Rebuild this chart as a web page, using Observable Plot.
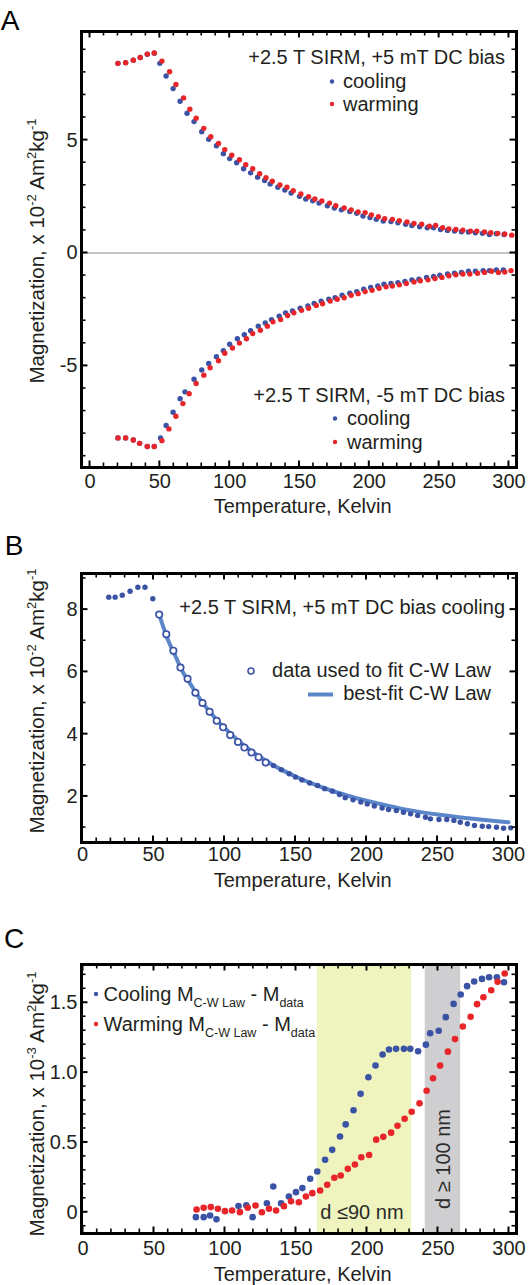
<!DOCTYPE html>
<html>
<head>
<meta charset="utf-8">
<script src="https://cdn.jsdelivr.net/npm/d3@7"></script>
<script src="https://cdn.jsdelivr.net/npm/@observablehq/plot@0.6"></script>
<style>
  body { margin: 0; background: #fff; }
  #wrap { position: relative; width: 528px; height: 1285px; overflow: hidden; background: #fff; }
  .panel { position: absolute; left: 0; }
</style>
</head>
<body>
<div id="wrap"></div>
<script>
// ---------------- DATA ----------------
// Panel A, +5 mT DC bias (upper branch)
const aTopCoolT = [20,25.5,31,36,41,46,50,54.5,59.5,64.5,69.5,74.5,80,85,90.5,95.5,100,105,110,115,120,125,129,134.5,139.5,144,150,154.5,159.5,164,170,175,180,186,191,195.5,200.5,205,210,215.5,220.5,226,230.5,236,241.5,246,251,256,261,266,271,276,281,286,291,296.5];
const aTopCoolM = [8.40,8.43,8.54,8.66,8.80,8.85,8.40,7.84,7.28,6.72,6.19,5.82,5.37,5.04,4.75,4.40,4.18,4.00,3.73,3.55,3.36,3.21,3.06,2.91,2.79,2.66,2.51,2.39,2.31,2.21,2.09,1.99,1.91,1.84,1.76,1.64,1.57,1.49,1.42,1.39,1.34,1.27,1.22,1.16,1.12,1.12,1.04,1.00,0.97,0.94,0.93,0.90,0.87,0.82,0.85,0.82];
const aTopWarmT = [20,25.5,31,36,41,46,51.5,57,61.5,67,71.5,76,81.5,86.5,92,96.5,101.5,107,111.5,116.5,121.5,126,130.5,136,141,145.5,151,156.5,161,166,171.5,176,182,187,192,197,201.5,206.5,211,216.5,221.5,227,232,237.5,243,247.5,252.5,257,262,267,272.5,277,282.5,287,292,297,302];
const aTopWarmM = [8.40,8.43,8.54,8.66,8.81,8.86,8.50,8.03,7.46,6.87,6.37,5.97,5.52,5.15,4.85,4.58,4.33,4.13,3.91,3.73,3.51,3.33,3.18,3.01,2.91,2.76,2.61,2.49,2.39,2.30,2.21,2.09,1.99,1.91,1.82,1.79,1.69,1.61,1.52,1.49,1.43,1.37,1.31,1.27,1.19,1.22,1.12,1.07,1.04,1.01,0.97,0.97,0.93,0.90,0.87,0.84,0.79];
// Panel A, -5 mT DC bias (lower branch)
const aBotCoolT = [20,25.5,31,35.5,41,46,50.5,54.5,59.5,64.5,68,74.5,80,85,90.5,95.5,100,105.5,110.5,115,120.5,125.5,130,135.5,140,145,150.5,156,160.5,165.5,171,175.5,180.5,186,191,196,201,206,210.5,215.5,220.5,225.5,230.5,235.5,241,246,250.5,256,261,266,271,276,281.5,286,291,296];
const aBotCoolM = [-8.19,-8.19,-8.28,-8.43,-8.57,-8.57,-8.19,-7.64,-7.05,-6.45,-6.15,-5.59,-5.18,-4.89,-4.59,-4.33,-4.04,-3.80,-3.62,-3.44,-3.24,-3.10,-2.95,-2.80,-2.65,-2.57,-2.45,-2.35,-2.23,-2.13,-2.05,-1.98,-1.87,-1.78,-1.71,-1.60,-1.53,-1.46,-1.38,-1.35,-1.31,-1.26,-1.19,-1.16,-1.08,-1.04,-0.98,-0.93,-0.89,-0.86,-0.81,-0.81,-0.78,-0.78,-0.75,-0.75];
const aBotWarmT = [20,25.5,31,35.5,41,46,51.5,56.5,61.5,66.5,71,76,81.5,86,92,96.5,102,107,112,116.5,122,127,131,136.5,141.5,146,151.5,156.5,162,166.5,172,177,182,187,192,197,202,207,212,216.5,221.5,226.5,232,236.5,242,247,252,257,262,267,272,277.5,282.5,287.5,292.5,297,301.5];
const aBotWarmM = [-8.19,-8.19,-8.28,-8.43,-8.57,-8.57,-8.31,-7.79,-7.23,-6.67,-6.23,-5.78,-5.41,-5.08,-4.77,-4.44,-4.21,-3.99,-3.80,-3.57,-3.42,-3.24,-3.05,-2.95,-2.77,-2.65,-2.54,-2.45,-2.32,-2.25,-2.13,-2.05,-1.98,-1.87,-1.80,-1.71,-1.65,-1.56,-1.50,-1.46,-1.41,-1.35,-1.28,-1.23,-1.19,-1.13,-1.08,-1.01,-0.96,-0.93,-0.93,-0.90,-0.86,-0.81,-0.86,-0.84,-0.78];

// Panel B, +5 mT DC bias cooling
const bEarlyT = [18.5,23,28,33.5,39,44,49.5];
const bEarlyM = [8.40,8.40,8.46,8.59,8.72,8.72,8.35];
const bFitDataT = [54,59,64,69,74,79.5,84.5,89.5,94.5,99,104,109.5,114,119,124,129];
const bFitDataM = [7.84,7.21,6.68,6.14,5.78,5.33,5.00,4.72,4.43,4.22,3.97,3.75,3.57,3.41,3.26,3.09];
const bLateT = [134.5,140,145.5,150,154.5,160,165.5,170.5,176,181,185,190.5,196,200.5,205.5,211,215.5,221,226,231,236,241.5,245,251,256.5,261.5,266,271,276,281.5,286,291.5,296.5,301.5];
const bLateM = [2.99,2.86,2.73,2.62,2.53,2.43,2.35,2.25,2.17,2.06,1.96,1.89,1.82,1.76,1.69,1.63,1.58,1.55,1.49,1.44,1.39,1.33,1.28,1.26,1.26,1.23,1.17,1.12,1.07,1.04,1.03,1.01,0.98,0.99];
const bCurveT = [54,60,65,70,75,80,85,90,95,100,110,120,130,140,150,160,175,190,200,225,250,275,300];
const bCurveM = [7.84,7.05,6.55,6.05,5.68,5.32,4.98,4.70,4.43,4.20,3.78,3.42,3.12,2.86,2.64,2.44,2.19,1.98,1.86,1.60,1.42,1.28,1.17];

// Panel C, M(C-W law) - M(data), x 10^-3
const cCoolT = [79.5,85,89.5,94,109.5,115,119.5,129.5,134,139.5,145,150,154.5,160,165,170.5,175.5,181,185,190.5,195.5,201,206,211,215.5,220.5,226,230.5,236,241.5,244.5,250.5,255.5,261,266,270.5,275.5,281,286,291.5,296.5];
const cCoolM = [-0.035,-0.035,-0.023,-0.05,0.045,0.05,-0.035,0.065,0.185,0.065,0.113,0.144,0.173,0.24,0.292,0.376,0.447,0.543,0.629,0.73,0.848,0.967,1.051,1.13,1.165,1.17,1.17,1.17,1.153,1.20,1.282,1.30,1.397,1.492,1.559,1.619,1.652,1.671,1.683,1.683,1.647];
const cWarmT = [80,85,90,95,100,105,110.5,116,121.5,126,131,136,141.5,146.5,152,157,161.5,167,172,177,181.5,186.5,191.5,196,201.5,206.5,211.5,217,221.5,226.5,231.5,237,242,246.5,251.5,257,262,267.5,273,277.5,282,287.5,292,297];
const cWarmM = [0.02,0.032,0.037,0.025,0.008,0.013,0.001,0.032,0.049,0.0,0.025,0.013,0.044,0.079,0.072,0.113,0.137,0.156,0.197,0.247,0.263,0.311,0.342,0.394,0.41,0.52,0.54,0.57,0.62,0.67,0.72,0.78,0.87,0.96,1.05,1.15,1.24,1.33,1.40,1.49,1.54,1.59,1.65,1.71];
const cBandStart = [165, 241];
const cBandEnd = [231.5, 266];
const cBandFill = ["#eff4bf", "#cfcfd1"];

// Tick labels
const xTicks = [0, 50, 100, 150, 200, 250, 300];
const xMinor = d3.range(0, 301, 10);
const aYTicks = [-5, 0, 5];
const aYMinor = d3.range(-9, 10, 1);
const bYTicks = [2, 4, 6, 8];
const bYMinor = d3.range(1, 10, 1);
const cYTicks = [0, 0.5, 1.0, 1.5];
const cYMinor = d3.range(-1, 18, 1).map(d => d / 10);

// ---------------- STYLE ----------------
const FONT = '"Liberation Sans", Arial, sans-serif';
const INK = "#231f20";
const BLUE = "#3b53a5";
const RED = "#e8262a";
const FIT = "#5b86c9";
const W = 528;
const wrap = document.getElementById("wrap");

function rich(g, x, y, parts, {anchor = "start", size = 20, transform = null, fill = INK} = {}) {
  const t = g.append("text")
    .attr("x", x).attr("y", y)
    .attr("text-anchor", anchor)
    .attr("font-family", FONT)
    .attr("font-size", size)
    .attr("fill", fill);
  if (transform) t.attr("transform", transform);
  let shift = 0;
  for (const [s, kind] of parts) {
    const target = kind === "sup" ? -8 : kind === "sub" ? 6 : 0;
    const ts = t.append("tspan").text(s).attr("dy", target - shift);
    if (kind) ts.attr("font-size", kind === "sup" ? 13 : 12.5);
    shift = target;
  }
  return t;
}

function panel(cfg) {
  const plot = Plot.plot({
    width: W,
    height: cfg.height,
    marginLeft: 81,
    marginRight: 12,
    marginTop: cfg.mt,
    marginBottom: cfg.mb,
    style: {fontFamily: FONT, fontSize: "20px", color: INK, background: "transparent", overflow: "visible"},
    x: {domain: cfg.xd},
    y: {domain: cfg.yd},
    marks: [
      ...(cfg.under || []),
      Plot.axisX(xTicks, {anchor: "bottom", tickSize: 0, tickPadding: cfg.xpad, label: null, tickFormat: d => String(d), fontSize: 20}),
      Plot.axisY(cfg.yTicks, {anchor: "left", tickSize: 0, tickPadding: 4, label: null, tickFormat: cfg.yfmt, fontSize: 20}),
      ...cfg.marks,
      Plot.frame({stroke: "#000", strokeWidth: 3})
    ]
  });
  const holder = document.createElement("div");
  holder.className = "panel";
  holder.style.top = cfg.top + "px";
  holder.appendChild(plot);
  wrap.appendChild(holder);

  const sx = plot.scale("x"), sy = plot.scale("y");
  const svg = d3.select(plot);
  const left = 81, right = W - 12, top = cfg.mt, bottom = cfg.height - cfg.mb;
  const g = svg.append("g").attr("stroke", "#000");
  for (const v of xMinor) {
    const x = sx.apply(v);
    const major = xTicks.includes(v);
    const L = major ? 5 : 3;
    const sw = major ? 2 : 1.6;
    g.append("line").attr("x1", x).attr("x2", x).attr("y1", bottom).attr("y2", bottom - L - 1.5).attr("stroke-width", sw);
    g.append("line").attr("x1", x).attr("x2", x).attr("y1", top).attr("y2", top + L + 1.5).attr("stroke-width", sw);
  }
  for (const v of cfg.yMinor) {
    const y = sy.apply(v);
    const major = cfg.yTicks.some(t => Math.abs(t - v) < 1e-9);
    const L = major ? 5 : 3;
    const sw = major ? 2 : 1.6;
    g.append("line").attr("y1", y).attr("y2", y).attr("x1", left).attr("x2", left + L + 1.5).attr("stroke-width", sw);
    g.append("line").attr("y1", y).attr("y2", y).attr("x1", right).attr("x2", right - L - 1.5).attr("stroke-width", sw);
  }
  const ann = svg.append("g");
  ann.append("text").attr("x", cfg.letterX).attr("y", cfg.letterY)
    .attr("font-family", '"Liberation Sans", Arial, sans-serif').attr("font-size", 28).attr("fill", "#000")
    .text(cfg.letter);
  rich(ann, 302.7, bottom + cfg.xlabOff, [["Temperature, Kelvin", ""]], {anchor: "middle"});
  rich(ann, 0, 0, [["Magnetization, x 10", ""], [cfg.exp, "sup"], [" Am", ""], ["2", "sup"], ["kg", ""], ["-1", "sup"]],
    {anchor: "middle", size: 20.5, transform: `translate(43.5,${cfg.ylabY}) rotate(-90)`});
  return {plot, sx, sy, ann};
}

// ---------------- PANEL A ----------------
{
  const p = panel({
    top: 0, height: 520, mt: 31, mb: 53,
    xd: [-6.1, 305.4], yd: [-9.50, 9.81],
    xpad: 6, yTicks: aYTicks, yMinor: aYMinor, yfmt: d => String(d),
    letter: "A", letterX: 10, letterY: 30, xlabOff: 45.6, ylabY: 251, exp: "-2",
    under: [Plot.ruleY([0], {stroke: "#8c8c8c", strokeWidth: 1})],
    marks: [
      Plot.dot(aTopCoolT, {x: aTopCoolT, y: aTopCoolM, r: 2.7, fill: BLUE, stroke: "none"}),
      Plot.dot(aBotCoolT, {x: aBotCoolT, y: aBotCoolM, r: 2.7, fill: BLUE, stroke: "none"}),
      Plot.dot(aTopWarmT, {x: aTopWarmT, y: aTopWarmM, r: 2.7, fill: RED, stroke: "none"}),
      Plot.dot(aBotWarmT, {x: aBotWarmT, y: aBotWarmM, r: 2.7, fill: RED, stroke: "none"})
    ]
  });
  const a = p.ann;
  rich(a, 505, 64, [["+2.5 T SIRM, +5 mT DC bias", ""]], {anchor: "end"});
  a.append("circle").attr("cx", 332).attr("cy", 81.5).attr("r", 2.2).attr("fill", BLUE);
  rich(a, 343, 88, [["cooling", ""]]);
  a.append("circle").attr("cx", 332).attr("cy", 104).attr("r", 2.2).attr("fill", RED);
  rich(a, 343, 111, [["warming", ""]]);
  rich(a, 505, 402.3, [["+2.5 T SIRM, -5 mT DC bias", ""]], {anchor: "end"});
  a.append("circle").attr("cx", 335).attr("cy", 418.5).attr("r", 2.2).attr("fill", BLUE);
  rich(a, 347, 425, [["cooling", ""]]);
  a.append("circle").attr("cx", 335).attr("cy", 442).attr("r", 2.2).attr("fill", RED);
  rich(a, 347, 448.5, [["warming", ""]]);
}

// ---------------- PANEL B ----------------
{
  const p = panel({
    top: 530, height: 367, mt: 43, mb: 55,
    xd: [-0.7, 305.6], yd: [0.52, 9.16],
    xpad: 4, yTicks: bYTicks, yMinor: bYMinor, yfmt: d => String(d),
    letter: "B", letterX: 14, letterY: 25, xlabOff: 45, ylabY: 171, exp: "-2",
    marks: [
      Plot.line(bCurveT, {x: bCurveT, y: bCurveM, stroke: FIT, strokeWidth: 4, curve: "natural"}),
      Plot.dot(bEarlyT, {x: bEarlyT, y: bEarlyM, r: 2.7, fill: BLUE, stroke: "none"}),
      Plot.dot(bLateT, {x: bLateT, y: bLateM, r: 2.7, fill: BLUE, stroke: "none"}),
      Plot.dot(bFitDataT, {x: bFitDataT, y: bFitDataM, r: 3.2, fill: "white", stroke: BLUE, strokeWidth: 1.7})
    ]
  });
  const a = p.ann;
  rich(a, 505, 84, [["+2.5 T SIRM, +5 mT DC bias cooling", ""]], {anchor: "end"});
  a.append("circle").attr("cx", 251).attr("cy", 141).attr("r", 3).attr("fill", "white").attr("stroke", BLUE).attr("stroke-width", 1.6);
  rich(a, 491, 147.3, [["data used to fit C-W Law", ""]], {anchor: "end"});
  a.append("line").attr("x1", 308).attr("x2", 333).attr("y1", 164.5).attr("y2", 164.5).attr("stroke", FIT).attr("stroke-width", 4);
  rich(a, 491, 170, [["best-fit C-W Law", ""]], {anchor: "end"});
}

// ---------------- PANEL C ----------------
{
  const p = panel({
    top: 900, height: 385, mt: 64, mb: 52,
    xd: [-1.06, 305.3], yd: [-0.152, 1.774],
    xpad: 7, yTicks: cYTicks, yMinor: cYMinor, yfmt: d => d === 0 ? "0" : d.toFixed(1),
    letter: "C", letterX: 14, letterY: 48, xlabOff: 47.5, ylabY: 204, exp: "-3",
    under: [Plot.rect(cBandStart, {x1: cBandStart, x2: cBandEnd, fill: cBandFill})],
    marks: [
      Plot.dot(cCoolT, {x: cCoolT, y: cCoolM, r: 3.3, fill: BLUE, stroke: "none"}),
      Plot.dot(cWarmT, {x: cWarmT, y: cWarmM, r: 3.3, fill: RED, stroke: "none"})
    ]
  });
  const a = p.ann;
  a.append("circle").attr("cx", 96).attr("cy", 94).attr("r", 2.2).attr("fill", BLUE);
  rich(a, 103.5, 101, [["Cooling M", ""], ["C-W Law", "sub"], [" - M", ""], ["data", "sub"]]);
  a.append("circle").attr("cx", 96).attr("cy", 124).attr("r", 2.2).attr("fill", RED);
  rich(a, 103.5, 131, [["Warming M", ""], ["C-W Law", "sub"], [" - M", ""], ["data", "sub"]]);
  rich(a, p.sx.apply(167.5), 319, [["d ≤90 nm", ""]], {fill: "#2b2b2b"});
  rich(a, 0, 0, [["d ≥ 100 nm", ""]], {anchor: "middle", fill: "#2b2b2b", transform: `translate(450,259) rotate(-90)`});
}
</script>
</body>
</html>
